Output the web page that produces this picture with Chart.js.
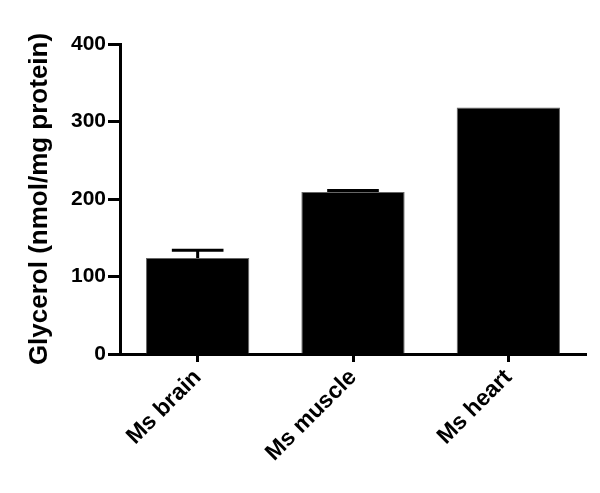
<!DOCTYPE html>
<html>
  <head>
    <meta charset="utf-8" />
    <title>Glycerol</title>
    <script src="https://cdn.jsdelivr.net/npm/chart.js@4/dist/chart.umd.min.js"></script>
    <style>
      html, body { margin: 0; padding: 0; background: #fff; }
      #wrap { width: 600px; height: 493px; }
    </style>
  </head>
  <body>
    <div id="wrap"><canvas id="c" width="600" height="493"></canvas></div>
    <script>
      // values
      var tissues = ["Ms brain", "Ms muscle", "Ms heart"];
      var glycerol = [124, 209, 318];
      var glycerolErr = [10, 2, 0];
      var yTicks = [0, 100, 200, 300, 400];

      var FONT = "'Liberation Sans', Arial, sans-serif";

      // little SEM caps on top of the bars
      var errorBars = {
        id: "errorBars",
        afterDatasetsDraw: function (chart) {
          var ctx = chart.ctx;
          var meta = chart.getDatasetMeta(0);
          var y = chart.scales.y;
          ctx.save();
          ctx.strokeStyle = "#000";
          ctx.lineWidth = 3;
          meta.data.forEach(function (bar, i) {
            var e = glycerolErr[i];
            if (!e) return;
            var top = y.getPixelForValue(glycerol[i] + e);
            var base = y.getPixelForValue(glycerol[i]);
            var half = bar.width * 0.25;
            ctx.beginPath();
            ctx.moveTo(bar.x, base);
            ctx.lineTo(bar.x, top);
            ctx.moveTo(bar.x - half, top);
            ctx.lineTo(bar.x + half, top);
            ctx.stroke();
          });
          ctx.restore();
        },
      };

      new Chart(document.getElementById("c"), {
        type: "bar",
        data: {
          labels: tissues,
          datasets: [
            {
              data: glycerol,
              backgroundColor: "#000",
              borderColor: "#666",
              borderWidth: 1,
              barPercentage: 0.665,
              categoryPercentage: 1,
            },
          ],
        },
        options: {
          responsive: false,
          animation: false,
          devicePixelRatio: 1,
          layout: { padding: { left: 0, right: 14, top: 44, bottom: 0 } },
          plugins: { legend: { display: false }, tooltip: { enabled: false } },
          scales: {
            x: {
              afterFit: function (s) { s.height = 139; },
              grid: {
                display: true,
                offset: false,
                drawOnChartArea: false,
                drawTicks: true,
                tickLength: 8,
                tickWidth: 3,
                tickColor: "#000",
              },
              border: { display: true, color: "#000", width: 3 },
              ticks: {
                color: "#000",
                maxRotation: 45,
                minRotation: 45,
                padding: 2,
                font: { family: FONT, size: 23, weight: "bold" },
              },
            },
            y: {
              min: 0,
              max: 400,
              afterFit: function (s) { s.width = 120; },
              afterBuildTicks: function (s) {
                s.ticks = yTicks.map(function (v) { return { value: v }; });
              },
              grid: {
                display: true,
                drawOnChartArea: false,
                drawTicks: true,
                tickLength: 12,
                tickWidth: 3,
                tickColor: "#000",
              },
              border: { display: true, color: "#000", width: 3 },
              ticks: {
                color: "#000",
                padding: 2,
                font: { family: FONT, size: 21, weight: "bold" },
              },
              title: {
                display: true,
                text: "Glycerol (nmol/mg protein)",
                color: "#000",
                padding: { top: 24, bottom: 0 },
                font: { family: FONT, size: 26, weight: "bold" },
              },
            },
          },
        },
        plugins: [errorBars],
      });
    </script>
  </body>
</html>
